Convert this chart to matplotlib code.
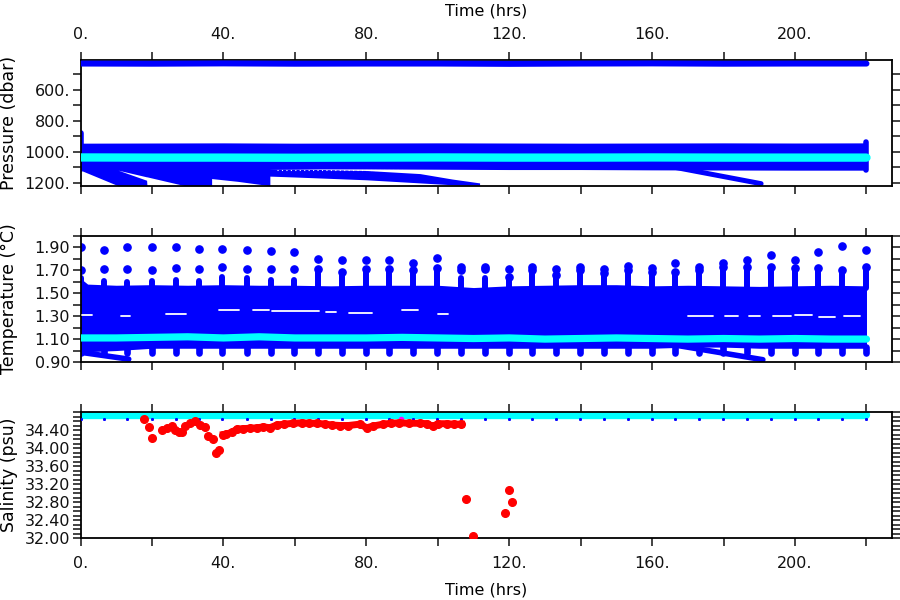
# %%
# Float record: pressure, temperature and salinity against time.
import numpy as np
import matplotlib
matplotlib.use('Agg')
import matplotlib.pyplot as plt

# %%
# Data (time in hours).
BLUE = '#0000ff'
CYAN = '#00ffff'
RED = '#ff0000'

# pressure panel (dbar)
p_t = [0, 20, 40, 60, 80, 100, 120, 140, 160, 180, 200, 220]
p_shallow = [431, 432, 430, 432, 431, 431, 433, 431, 430, 432, 431, 431]
p_band_top = [944, 943, 942, 944, 943, 942, 943, 944, 943, 942, 943, 942]
p_band_bot = [1108, 1108, 1108, 1110, 1110, 1112, 1114, 1114, 1116, 1117, 1118, 1118]
p_cyan = [1036, 1037, 1037, 1038, 1037, 1036, 1037, 1037, 1036, 1037, 1037, 1037]
# deep descending traces under the band (first two days)
deep_t = [0, 10.5, 36.7, 36.7, 44, 53]
deep_top = [1100, 1100, 1100, 1100, 1100, 1100]
deep_p = [1118, 1218, 1218, 1172, 1190, 1218]
# white wedge between the second and third trace
gap_t = [10.5, 12, 18.5, 18.6, 29.2]
gap_hi = [1118, 1126, 1161, 1161, 1218]
gap_lo = [1118, 1130, 1183, 1218, 1218]
# long trace that reaches the bottom near 111 h
e_t = [45, 60, 80, 95, 104, 111.7]
e_hi = [1105, 1110, 1120, 1140, 1175, 1200]
e_lo = [1150, 1162, 1180, 1200, 1212, 1215]
seam_t = [55, 90]
seam_p = [1119, 1119]
trail_t = [166, 190.5]
trail_p = [1098, 1205]
col_t = [0, 220]
col_top = [880, 935]
col_bot = [1110, 1118]

# temperature panel (degC)
temp_t = [0, 2, 10, 20, 30, 40, 50, 60, 70, 80, 90, 100, 110, 120,
          130, 140, 150, 160, 170, 180, 190, 200, 210, 220]
temp_hi = [1.63, 1.58, 1.57, 1.575, 1.57, 1.575, 1.57, 1.57, 1.565, 1.57, 1.57, 1.57,
           1.55, 1.565, 1.57, 1.575, 1.575, 1.565, 1.57, 1.565, 1.56, 1.565, 1.57, 1.565]
temp_lo = [0.99, 0.99, 1.0, 1.02, 1.02, 1.02, 1.02, 1.02, 1.02, 1.02, 1.02, 1.02,
           1.02, 1.02, 1.02, 1.02, 1.02, 1.02, 1.03, 1.03, 1.02, 1.02, 1.02, 1.02]
temp_cyan = [1.11, 1.11, 1.11, 1.115, 1.12, 1.11, 1.12, 1.11, 1.11, 1.11, 1.115, 1.11,
             1.105, 1.11, 1.10, 1.105, 1.11, 1.105, 1.10, 1.105, 1.10, 1.105, 1.10, 1.10]
spike_t = [0, 6.5, 13.0, 19.9, 26.6, 33.2, 39.7, 46.5, 53.2, 59.8, 66.5, 73.1,
           79.8, 86.4, 93.1, 99.8, 106.6, 113.2, 119.9, 126.5, 133.2, 139.9, 146.5,
           153.3, 159.9, 166.5, 173.1, 179.8, 186.6, 193.2, 199.9, 206.5, 213.2, 219.9]
spike_top = [1.90, 1.88, 1.90, 1.90, 1.90, 1.89, 1.89, 1.88, 1.87, 1.86, 1.80, 1.79,
             1.79, 1.79, 1.76, 1.81, 1.73, 1.73, 1.71, 1.73, 1.71, 1.73, 1.71,
             1.74, 1.72, 1.76, 1.73, 1.76, 1.79, 1.83, 1.79, 1.86, 1.91, 1.88]
spike_mid = [1.70, 1.71, 1.71, 1.70, 1.72, 1.71, 1.73, 1.71, 1.71, 1.71, 1.71, 1.69,
             1.71, 1.71, 1.70, 1.72, 1.70, 1.71, 1.64, 1.70, 1.66, 1.70, 1.68,
             1.70, 1.69, 1.69, 1.70, 1.73, 1.73, 1.73, 1.72, 1.72, 1.70, 1.73]
spike_col = [1.63, 1.61, 1.60, 1.61, 1.62, 1.61, 1.64, 1.63, 1.62, 1.62, 1.70, 1.69,
             1.70, 1.70, 1.69, 1.72, 1.63, 1.63, 1.63, 1.70, 1.63, 1.69, 1.675,
             1.70, 1.69, 1.69, 1.70, 1.73, 1.73, 1.70, 1.72, 1.72, 1.70, 1.73]
spike_floor = 0.98
temp_trail_t = [[0, 13.5], [166, 191]]
temp_trail_T = [[0.985, 0.925], [1.05, 0.92]]
# white gaps inside the blue cloud
wgap_t0 = [0.3, 11.4, 24, 38.9, 48.2, 53.7, 68.6, 75.1, 90, 100,
           170, 180.3, 187, 193.7, 200.1, 206.6, 213.6]
wgap_t1 = [3.1, 13.8, 29.5, 44.5, 52.8, 66.7, 71.4, 81.6, 94.6, 103,
           177, 184, 190.3, 198.8, 204.8, 211.2, 218.3]
wgap_T = [1.31, 1.305, 1.32, 1.35, 1.355, 1.345, 1.335, 1.325, 1.35, 1.32,
          1.30, 1.30, 1.30, 1.30, 1.31, 1.295, 1.305]

# salinity panel (psu)
sal_t = [0, 220]
sal_cyan = [34.74, 34.74]
sal_dot = 34.655
flag_t = [89.8]
flag_s = [34.64]
bad_t = [17.7, 19.1, 20.0, 22.8, 24.2, 25.6, 26.5, 27.7, 28.4, 29.3, 30.7, 32.1,
         33.5, 34.9, 35.8, 37.1, 38.0, 38.9, 107.8, 109.9, 118.8, 119.8, 120.8]
bad_s = [34.64, 34.46, 34.22, 34.41, 34.44, 34.50, 34.40, 34.35, 34.36, 34.50, 34.56, 34.59,
         34.52, 34.46, 34.27, 34.20, 33.88, 33.96, 32.86, 32.05, 32.56, 33.07, 32.81]
run_t = [40.0, 40.8, 42.4, 43.8, 45.5, 47.5, 49.5, 51.2, 53.0, 54.9, 57.0, 59.6, 62.0,
         64.0, 66.1, 68.5, 70.5, 72.6, 75.0, 78.2, 80.1, 82.0, 84.7, 87.0, 89.2,
         92.0, 95.0, 97.0, 98.7, 100.0, 102.5, 104.5, 106.6]
run_s = [34.30, 34.31, 34.35, 34.42, 34.43, 34.44, 34.45, 34.47, 34.45, 34.51, 34.53, 34.55,
         34.56, 34.55, 34.55, 34.53, 34.51, 34.50, 34.50, 34.53, 34.45, 34.49, 34.53, 34.55,
         34.56, 34.55, 34.55, 34.54, 34.48, 34.54, 34.54, 34.53, 34.53]

x_ticks = [0, 20, 40, 60, 80, 100, 120, 140, 160, 180, 200, 220]
x_labels = ['0.', '', '40.', '', '80.', '', '120.', '', '160.', '', '200.', '']
p_ticks = [500, 600, 700, 800, 900, 1000, 1100, 1200]
p_labels = ['', '600.', '', '800.', '', '1000.', '', '1200.']
t_labels = ['0.90', '', '1.10', '', '1.30', '', '1.50', '', '1.70', '', '1.90', '']
s_labels = ['32.00', '', '', '', '32.40', '', '', '', '32.80', '', '', '', '33.20', '', '', '',
            '33.60', '', '', '', '34.00', '', '', '', '34.40', '', '', '', '']

# %%
plt.rcParams['font.family'] = ['DejaVu Sans']
fig = plt.figure(figsize=(9, 6), dpi=100)
W, H = 900, 600
left, width, height = 80.5 / W, 811 / W, 126 / H
ax1 = fig.add_axes([left, 1 - 186 / H, width, height])
ax2 = fig.add_axes([left, 1 - 362 / H, width, height])
ax3 = fig.add_axes([left, 1 - 538 / H, width, height])


def style(ax):
    ax.set_xlim(0, 227)
    ax.set_xticks(x_ticks)
    ax.set_xticklabels(x_labels)
    ax.tick_params(which='both', direction='out', length=6, width=1.1,
                   top=True, right=True, labelsize=11.5, colors='#111111')
    ax.tick_params(axis='y', pad=1.5)
    ax.tick_params(axis='x', pad=7, labelbottom=False, labeltop=False)
    for s in ax.spines.values():
        s.set_linewidth(1.3)


# %%
# Pressure.
ax1.fill_between(p_t, p_band_top, p_band_bot, color=BLUE, lw=0, zorder=1)
ax1.fill_between(deep_t, deep_top, deep_p, color=BLUE, lw=0, zorder=1)
ax1.fill_between(e_t, e_hi, e_lo, color=BLUE, lw=0, zorder=1)
ax1.fill_between(gap_t, gap_hi, gap_lo, color='white', lw=0, zorder=1.5)
ax1.plot(trail_t, trail_p, color=BLUE, lw=3.6, solid_capstyle='round', zorder=2)
ax1.plot(seam_t, seam_p, color='white', lw=0.8, ls=(0, (1, 3)), zorder=2)
ax1.vlines(col_t, col_top, col_bot, color=BLUE, lw=4, capstyle='round', zorder=2)
ax1.plot(p_t, p_cyan, color=CYAN, lw=6, solid_capstyle='round', zorder=3)
ax1.plot(p_t, p_shallow, color=BLUE, lw=4.3, solid_capstyle='round', zorder=3)
style(ax1)
ax1.set_ylim(1220, 408)
ax1.set_yticks(p_ticks)
ax1.set_yticklabels(p_labels)
ax1.tick_params(axis='x', labeltop=True)
ax1.xaxis.set_label_position('top')
ax1.set_xlabel('Time (hrs)', fontsize=11.5, va='center')
ax1.xaxis.set_label_coords(0.5, 1.39)
ax1.set_ylabel('Pressure (dbar)', fontsize=12.5, va='center')
ax1.yaxis.set_label_coords(-0.088, 0.5)

# %%
# Temperature.
ax2.fill_between(temp_t, temp_lo, temp_hi, color=BLUE, lw=0, zorder=1)
ax2.vlines(spike_t, 1.55, spike_col, color=BLUE, lw=4.3, capstyle='round', zorder=2)
ax2.vlines(spike_t, spike_floor, 1.03, color=BLUE, lw=4.8, capstyle='round', zorder=2)
ax2.plot(spike_t, spike_mid, 'o', ms=5.2, color=BLUE, mec=BLUE, zorder=2)
ax2.plot(spike_t, spike_top, 'o', ms=5.2, color=BLUE, mec=BLUE, zorder=2)
for tt, TT in zip(temp_trail_t, temp_trail_T):
    ax2.plot(tt, TT, color=BLUE, lw=4, solid_capstyle='round', zorder=2)
ax2.hlines(wgap_T, wgap_t0, wgap_t1, color='white', lw=1.3, capstyle='round', zorder=3)
ax2.plot(temp_t, temp_cyan, color=CYAN, lw=5.2, solid_capstyle='round', zorder=3)
style(ax2)
ax2.set_ylim(0.9, 2.0)
ax2.set_yticks(np.arange(0.9, 2.001, 0.1))
ax2.set_yticklabels(t_labels)
ax2.set_ylabel('Temperature (°C)', fontsize=12.5, va='center')
ax2.yaxis.set_label_coords(-0.088, 0.5)

# %%
# Salinity.
ax3.plot(sal_t, sal_cyan, color=CYAN, lw=6, solid_capstyle='round', zorder=2)
ax3.plot(spike_t, np.full(len(spike_t), sal_dot), 's', ms=1.1, color=BLUE, zorder=3)
ax3.plot(flag_t, flag_s, 'o', ms=3, color='magenta', zorder=3)
ax3.plot(run_t, run_s, '-o', lw=5, ms=5.5, color=RED, mec=RED, zorder=4)
ax3.plot(bad_t, bad_s, 'o', ms=5.5, color=RED, mec=RED, zorder=4)
style(ax3)
ax3.set_ylim(32, 34.8)
ax3.set_yticks(np.arange(32.0, 34.801, 0.1))
ax3.set_yticklabels(s_labels)
ax3.tick_params(axis='x', labelbottom=True)
ax3.set_xlabel('Time (hrs)', fontsize=11.5, va='center')
ax3.xaxis.set_label_coords(0.5, -0.41)
ax3.set_ylabel('Salinity (psu)', fontsize=12.5, va='center')
ax3.yaxis.set_label_coords(-0.088, 0.5)

# %%
fig.savefig('out.png', dpi=100)
